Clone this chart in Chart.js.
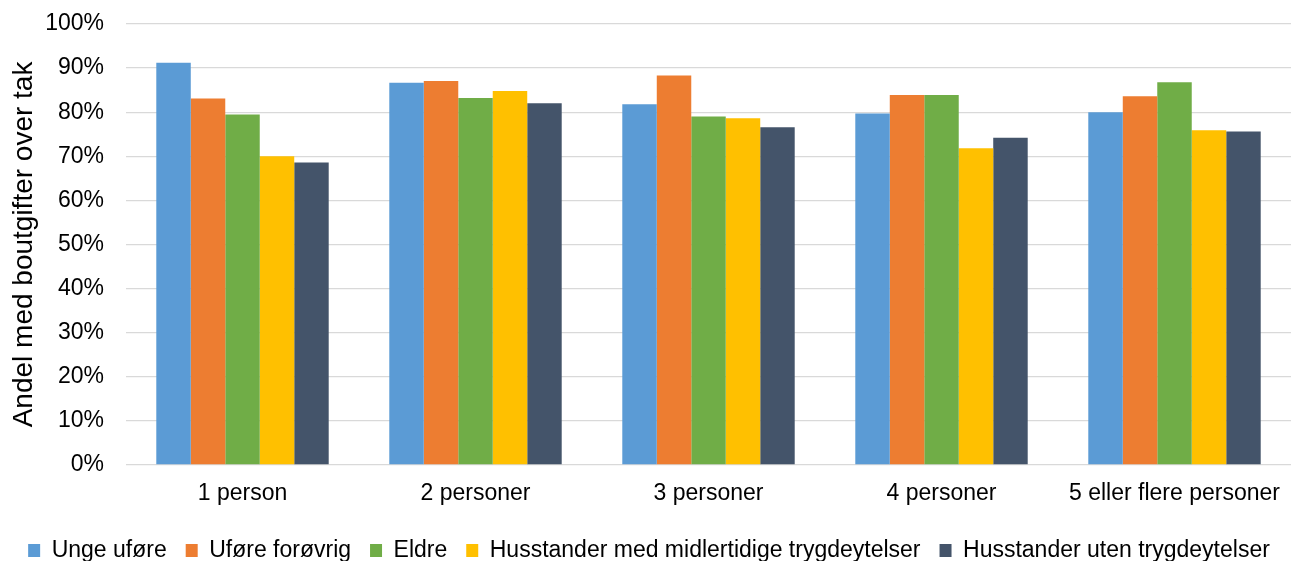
<!DOCTYPE html>
<html><head><meta charset="utf-8">
<script src="https://cdn.jsdelivr.net/npm/chart.js@4.4.1/dist/chart.umd.min.js"></script>
<style>html,body{margin:0;padding:0;background:#fff}#wrap{width:1295px;height:561px}</style>
</head><body><div id="wrap"><canvas id="c" width="1295" height="561"></canvas></div>
<script>
const categories = ["1 person", "2 personer", "3 personer", "4 personer", "5 eller flere personer"];
const seriesNames = ["Unge uføre", "Uføre forøvrig", "Eldre", "Husstander med midlertidige trygdeytelser", "Husstander uten trygdeytelser"];
const ungeUfore = [91.2, 86.7, 81.8, 79.7, 80.0];
const uforeForovrig = [83.1, 87.1, 88.3, 83.9, 83.6];
const eldre = [79.5, 83.2, 79.0, 83.9, 86.8];
const midlertidige = [70.0, 84.8, 78.6, 71.8, 75.9];
const utenTrygd = [68.6, 82.0, 76.6, 74.2, 75.6];
const yTicks = [0,10,20,30,40,50,60,70,80,90,100];
const colors = ["#5B9BD5", "#ED7D31", "#70AD47", "#FFC000", "#44546A"];
const seriesValues = [ungeUfore, uforeForovrig, eldre, midlertidige, utenTrygd];

const font = "'Liberation Sans', Arial, sans-serif";
const fs = 23;
new Chart(document.getElementById('c'), {
  type: 'bar',
  data: {
    labels: categories,
    datasets: seriesNames.map((n, i) => ({
      label: n, data: seriesValues[i], backgroundColor: colors[i],
      borderWidth: 0, barPercentage: 1.0, categoryPercentage: 0.74
    }))
  },
  options: {
    responsive: false, animation: false,
    layout: { padding: { left: 7, right: 4, top: 24, bottom: -11 } },
    plugins: {
      tooltip: { enabled: false },
      legend: {
        position: 'bottom',
        labels: { font: { family: font, size: fs }, color: '#000', boxWidth: 12, boxHeight: 13, padding: 19 }
      }
    },
    scales: {
      x: {
        grid: { display: false },
        border: { display: false },
        ticks: { font: { family: font, size: fs }, color: '#000', padding: 7 },
        afterFit: (axis) => { axis.height = axis.height + 5.5; }
      },
      y: {
        min: 0, max: 100,
        afterBuildTicks: (axis) => { axis.ticks = yTicks.map(v => ({ value: v })); },
        afterFit: (axis) => { axis.width = 119; axis.paddingTop = 0; axis.paddingBottom = 0; },
        grid: { color: '#d9d9d9', lineWidth: 1.3, drawTicks: false },
        border: { display: false },
        ticks: { font: { family: font, size: fs }, color: '#000', padding: 22, callback: v => v + '%' },
        title: { display: true, text: 'Andel med boutgifter over tak', font: { family: font, size: 28 }, color: '#000', padding: { top: 0, bottom: 0 } }
      }
    }
  }
});
</script></body></html>
